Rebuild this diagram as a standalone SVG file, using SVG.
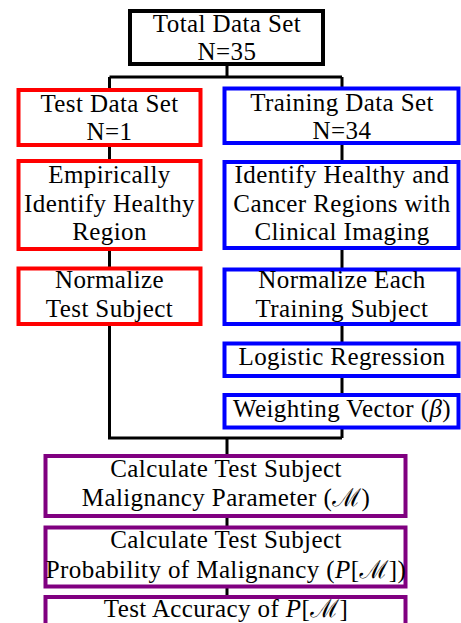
<svg xmlns="http://www.w3.org/2000/svg" width="461" height="623" viewBox="0 0 461 623">
  <style>
    .box { fill: #ffffff; stroke-width: 4; }
    .black { stroke: #000000; }
    .red { stroke: #ff0000; }
    .blue { stroke: #0000ff; }
    .purple { stroke: #800080; }
    .link { fill: none; stroke: #000000; stroke-width: 3; }
    .label { font-family: "Times New Roman", Tinos, "Liberation Serif", "DejaVu Serif", "Noto Serif", Times, serif; font-size: 25px; letter-spacing: 0.4px; text-anchor: middle; fill: #000000; }
    .m { font-style: italic; }
  </style>

  <g id="connectors">
    <path class="link" d="M227 64 V77 M109.5 77 H342 M109.5 77 V90 M342 77 V88.5"/>
    <path class="link" d="M109.5 145 V161 M109.5 249 V268.5 M109.5 324 V438 H342"/>
    <path class="link" d="M342 143 V162 M342 248 V269.5 M342 324 V343.5 M342 376 V395 M342 427.5 V438"/>
    <path class="link" d="M227 438 V456 M227 516 V527.5 M227 586.5 V597"/>
  </g>

  <g id="total">
    <rect class="box black" x="130" y="11" width="193" height="53"/>
    <text class="label" x="227" y="32">Total Data Set</text>
    <text class="label" x="227" y="60">N=35</text>
  </g>

  <g id="test-set">
    <rect class="box red" x="18.5" y="90" width="182" height="55"/>
    <text class="label" x="109.5" y="112">Test Data Set</text>
    <text class="label" x="109.5" y="140">N=1</text>
  </g>

  <g id="training-set">
    <rect class="box blue" x="224.5" y="88.5" width="234" height="54.5"/>
    <text class="label" x="342" y="111">Training Data Set</text>
    <text class="label" x="342" y="139">N=34</text>
  </g>

  <g id="empirical-region">
    <rect class="box red" x="18.5" y="161" width="182" height="88"/>
    <text class="label" x="109.5" y="183">Empirically</text>
    <text class="label" x="109.5" y="212">Identify Healthy</text>
    <text class="label" x="109.5" y="240">Region</text>
  </g>

  <g id="clinical-regions">
    <rect class="box blue" x="224.5" y="162" width="234" height="86"/>
    <text class="label" x="342" y="183">Identify Healthy and</text>
    <text class="label" x="342" y="212">Cancer Regions with</text>
    <text class="label" x="342" y="240">Clinical Imaging</text>
  </g>

  <g id="normalize-test">
    <rect class="box red" x="18.5" y="268.5" width="182" height="55.5"/>
    <text class="label" x="109.5" y="288">Normalize</text>
    <text class="label" x="109.5" y="317">Test Subject</text>
  </g>

  <g id="normalize-training">
    <rect class="box blue" x="224.5" y="269.5" width="234" height="54.5"/>
    <text class="label" x="342" y="288">Normalize Each</text>
    <text class="label" x="342" y="317">Training Subject</text>
  </g>

  <g id="logistic-regression">
    <rect class="box blue" x="224.5" y="343.5" width="234" height="32.5"/>
    <text class="label" x="342" y="365">Logistic Regression</text>
  </g>

  <g id="weighting-vector">
    <rect class="box blue" x="224.5" y="395" width="234" height="32.5"/>
    <text class="label" x="342" y="417">Weighting Vector (<tspan class="m">β</tspan>)</text>
  </g>

  <g id="malignancy-parameter">
    <rect class="box purple" x="45.5" y="456" width="360" height="60"/>
    <text class="label" x="226" y="477">Calculate Test Subject</text>
    <text class="label" x="226" y="506">Malignancy Parameter (<tspan class="m">ℳ</tspan>)</text>
  </g>

  <g id="malignancy-probability">
    <rect class="box purple" x="45.5" y="527.5" width="360" height="59"/>
    <text class="label" x="226" y="548">Calculate Test Subject</text>
    <text class="label" x="226" y="578">Probability of Malignancy (<tspan class="m">P</tspan>[<tspan class="m">ℳ</tspan>])</text>
  </g>

  <g id="test-accuracy">
    <rect class="box purple" x="45.5" y="597" width="360" height="60"/>
    <text class="label" x="226" y="617">Test Accuracy of <tspan class="m">P</tspan>[<tspan class="m">ℳ</tspan>]</text>
  </g>
</svg>
